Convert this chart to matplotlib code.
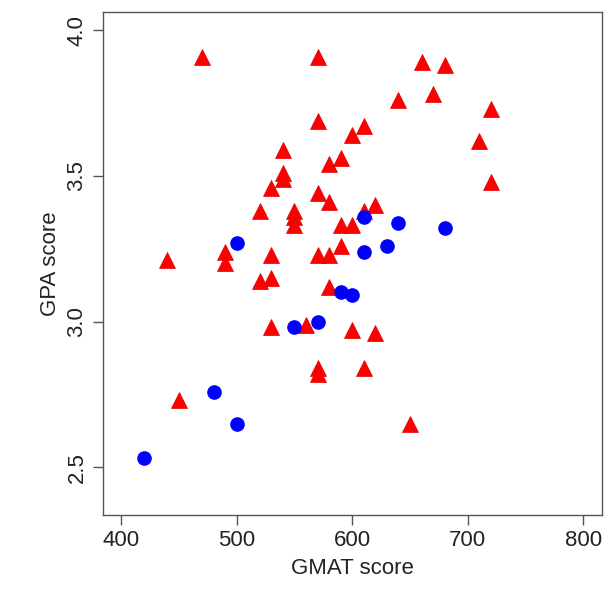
import matplotlib
matplotlib.use("Agg")
import matplotlib.pyplot as plt

# red triangles (GMAT, GPA)
tri_gmat = [470, 570, 660, 680, 670, 640, 720, 570, 610, 600, 710, 540, 590, 580,
            540, 540, 720, 530, 570, 580, 620, 520, 550, 610, 550, 550, 590, 600,
            590, 490, 530, 570, 580, 440, 490, 530, 520, 580, 560, 530, 600, 620,
            570, 570, 610, 450, 650]
tri_gpa = [3.91, 3.91, 3.89, 3.88, 3.78, 3.76, 3.73, 3.69, 3.67, 3.64, 3.62, 3.59, 3.56, 3.54,
           3.51, 3.49, 3.48, 3.46, 3.44, 3.41, 3.40, 3.38, 3.38, 3.38, 3.36, 3.33, 3.33, 3.33,
           3.26, 3.24, 3.23, 3.23, 3.23, 3.21, 3.20, 3.15, 3.14, 3.12, 2.99, 2.98, 2.97, 2.96,
           2.84, 2.82, 2.84, 2.73, 2.65]

# blue circles (GMAT, GPA)
dot_gmat = [500, 610, 640, 680, 630, 610, 590, 600, 570, 550, 480, 500, 420]
dot_gpa = [3.27, 3.36, 3.34, 3.32, 3.26, 3.24, 3.10, 3.09, 3.00, 2.98, 2.76, 2.65, 2.53]

xticks = [400, 500, 600, 700, 800]
yticks = [2.5, 3.0, 3.5, 4.0]

plt.rcParams["font.family"] = ["Liberation Sans", "DejaVu Sans"]

fig = plt.figure(figsize=(6.14, 5.95), dpi=100)
ax = fig.add_axes([102.7 / 614, 1 - 515 / 595, 499 / 614, 503.3 / 595])

ax.plot(tri_gmat, tri_gpa, linestyle="none", marker="^", ms=11,
        color="#ff0000", mec="#e00000", mew=0.5)
ax.plot(dot_gmat, dot_gpa, linestyle="none", marker="o", ms=9.5,
        color="#0000ff", mec="#0000ff")

# R-style 4% padding around xlim=c(400,800), ylim=c(2.4,4.0)
ax.set_xlim(400 - 16, 800 + 16)
ax.set_ylim(2.4 - 0.064, 4.0 + 0.064)

ax.set_xticks(xticks)
ax.set_xticklabels([str(v) for v in xticks])
ax.set_yticks(yticks)
ax.set_yticklabels([f"{v:.1f}" for v in yticks], rotation=90, va="center")

ax.tick_params(direction="out", length=7, width=1, color="#555555",
               labelsize=16, labelcolor="#222222", pad=4)
for s in ax.spines.values():
    s.set_color("#555555")
    s.set_linewidth(1)

ax.set_xlabel("GMAT score", fontsize=16, color="#222222", labelpad=5)
ax.set_ylabel("GPA score", fontsize=16, color="#222222", labelpad=4)

fig.savefig("out.png", dpi=100)
